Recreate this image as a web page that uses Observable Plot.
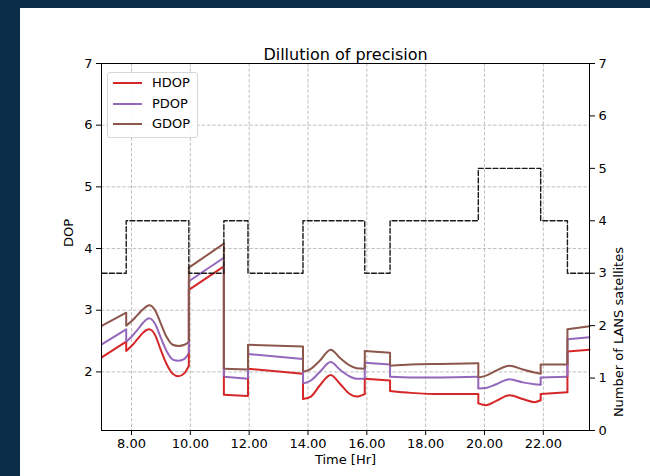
<!DOCTYPE html>
<html><head><meta charset="utf-8">
<script src="https://cdn.jsdelivr.net/npm/d3@7"></script>
<script src="https://cdn.jsdelivr.net/npm/@observablehq/plot@0.6"></script>
<style>
html,body{margin:0;padding:0;width:650px;height:476px;overflow:hidden;background:#0b2d47;font-family:"DejaVu Sans",sans-serif;}
#panel{position:absolute;left:20px;top:8px;width:630px;height:468px;background:#fff;}
#chart{position:absolute;left:0;top:0;}
#legend{position:absolute;left:107px;top:72px;width:89px;height:64px;border:1px solid #d6d6d6;border-radius:3px;background:rgba(255,255,255,0.85);font-size:13px;color:#000;}
.item{position:absolute;left:0;width:89px;height:20px;}
.item svg{position:absolute;left:4px;top:0;}
.item span{position:absolute;left:44px;top:2px;line-height:16px;}
</style></head><body>
<div id="panel"></div>
<div id="chart"></div>
<div id="legend"></div>
<script>
// ---- data ----
const seriesNames = ["HDOP", "PDOP", "GDOP"];
const seriesColors = ["#d62728", "#9467bd", "#8c564b"];
const time = [7.0, 7.82, 7.82, 8.0, 8.2, 8.4, 8.6, 8.8, 9.0, 9.2, 9.4, 9.6, 9.8, 9.95, 9.95, 11.14, 11.14, 11.96, 11.96, 13.83, 13.83, 14.1, 14.4, 14.77, 15.1, 15.4, 15.65, 15.93, 15.93, 16.79, 16.79, 17.5, 18.5, 19.79, 19.79, 20.05, 20.4, 20.85, 21.3, 21.7, 21.91, 21.91, 22.82, 22.82, 23.57];
const hdop = [2.24, 2.49, 2.34, 2.42, 2.53, 2.64, 2.69, 2.60, 2.35, 2.12, 1.97, 1.93, 1.98, 2.10, 3.33, 3.71, 1.63, 1.61, 2.05, 1.97, 1.56, 1.60, 1.78, 1.95, 1.80, 1.65, 1.60, 1.64, 1.89, 1.86, 1.69, 1.66, 1.64, 1.64, 1.49, 1.46, 1.53, 1.62, 1.56, 1.51, 1.54, 1.64, 1.67, 2.33, 2.36];
const pdop = [2.45, 2.69, 2.49, 2.57, 2.68, 2.80, 2.87, 2.78, 2.55, 2.33, 2.20, 2.18, 2.21, 2.30, 3.47, 3.85, 1.92, 1.89, 2.29, 2.21, 1.81, 1.86, 2.00, 2.16, 2.03, 1.93, 1.89, 1.89, 2.15, 2.12, 1.92, 1.91, 1.91, 1.92, 1.73, 1.74, 1.80, 1.88, 1.83, 1.80, 1.79, 1.91, 1.92, 2.53, 2.56];
const gdop = [2.75, 2.96, 2.75, 2.82, 2.92, 3.02, 3.08, 3.00, 2.78, 2.56, 2.44, 2.42, 2.44, 2.49, 3.69, 4.08, 2.05, 2.04, 2.44, 2.41, 2.00, 2.05, 2.18, 2.36, 2.22, 2.11, 2.06, 2.05, 2.34, 2.31, 2.10, 2.12, 2.13, 2.14, 1.91, 1.94, 2.02, 2.10, 2.04, 1.99, 1.97, 2.12, 2.12, 2.69, 2.74];
const satTime = [7.0, 7.82, 9.95, 11.14, 11.96, 13.83, 15.93, 16.79, 19.79, 21.91, 22.82, 23.57];
const satCount = [3, 4, 3, 4, 3, 4, 3, 4, 5, 4, 3, 3];
const xTicks = [8, 10, 12, 14, 16, 18, 20, 22];
const dopTicks = [2, 3, 4, 5, 6, 7];
const satTicks = [0, 1, 2, 3, 4, 5, 6, 7];
const titleText = "Dillution of precision";
const xLabel = "Time [Hr]";
const yLabel = "DOP";
const y2Label = "Number of LANS satellites";

// ---- scales ----
const dopDomain = [1.05, 7];
const satDomain = [0, 7];
const toLeft = s => dopDomain[0] + (s - satDomain[0]) * (dopDomain[1] - dopDomain[0]) / (satDomain[1] - satDomain[0]);
const fromLeft = v => satDomain[0] + (v - dopDomain[0]) * (satDomain[1] - satDomain[0]) / (dopDomain[1] - dopDomain[0]);

const allSeries = [hdop, pdop, gdop];
const rows = [];
const jumps = [];
seriesNames.forEach((name, k) => {
  const vals = allSeries[k];
  let seg = 0;
  time.forEach((t, i) => {
    if (i > 0 && t === time[i - 1]) {
      seg++;
      jumps.push({series: name, t, y1: vals[i - 1], y2: vals[i]});
    }
    rows.push({series: name, t, v: vals[i], key: name + "-" + seg});
  });
});
const sats = satTime.map((t, i) => ({t, v: toLeft(satCount[i])}));

const gridStyle = {stroke: "#b0b0b0", strokeOpacity: 1, strokeWidth: 0.8, strokeDasharray: "3.5,1.8"};

const chart = Plot.plot({
  width: 650,
  height: 476,
  marginTop: 63,
  marginBottom: 46,
  marginLeft: 101,
  marginRight: 61,
  style: {background: "transparent", fontFamily: "DejaVu Sans, sans-serif", fontSize: "13px", color: "#000"},
  x: {domain: [6.98, 23.57]},
  y: {domain: dopDomain},
  color: {domain: seriesNames, range: seriesColors},
  marks: [
    Plot.gridX(xTicks, gridStyle),
    Plot.gridY(dopTicks, gridStyle),
    Plot.line(rows, {x: "t", y: "v", z: "key", stroke: "series", strokeWidth: 2, curve: "monotone-x"}),
    Plot.link(jumps, {x1: "t", x2: "t", y1: "y1", y2: "y2", stroke: "series", strokeWidth: 2}),
    Plot.line(sats, {x: "t", y: "v", curve: "step-after", stroke: "#1a1a1a", strokeWidth: 1.4, strokeDasharray: "5,2.3"}),
    Plot.frame({stroke: "#000", strokeWidth: 1}),
    Plot.axisX(xTicks, {tickFormat: d => d.toFixed(2), tickSize: 5, tickPadding: 3, label: null, fontSize: 13}),
    Plot.axisY(dopTicks, {anchor: "left", tickSize: 5, tickPadding: 4, label: null, fontSize: 13, tickFormat: d => String(d)}),
    Plot.axisY(satTicks.map(toLeft), {anchor: "right", tickSize: 5, tickPadding: 4, label: null, fontSize: 13, tickFormat: v => String(Math.round(fromLeft(v)))}),
    Plot.text([titleText], {frameAnchor: "top", dy: -15, fontSize: 16}),
    Plot.text([xLabel], {frameAnchor: "bottom", dy: 33, fontSize: 13}),
    Plot.text([yLabel], {frameAnchor: "left", dx: -33, rotate: -90, fontSize: 13}),
    Plot.text([y2Label], {frameAnchor: "right", dx: 29, rotate: -90, fontSize: 13})
  ]
});
document.getElementById("chart").appendChild(chart);

// ---- legend ----
const legend = document.getElementById("legend");
seriesNames.forEach((name, i) => {
  const item = document.createElement("div");
  item.className = "item";
  item.style.top = (i * 20.5) + "px";
  item.innerHTML = `<svg width="32" height="20"><line x1="1" x2="30" y1="10" y2="10" stroke="${seriesColors[i]}" stroke-width="2"/></svg><span>${name}</span>`;
  legend.appendChild(item);
});
</script>
</body></html>
